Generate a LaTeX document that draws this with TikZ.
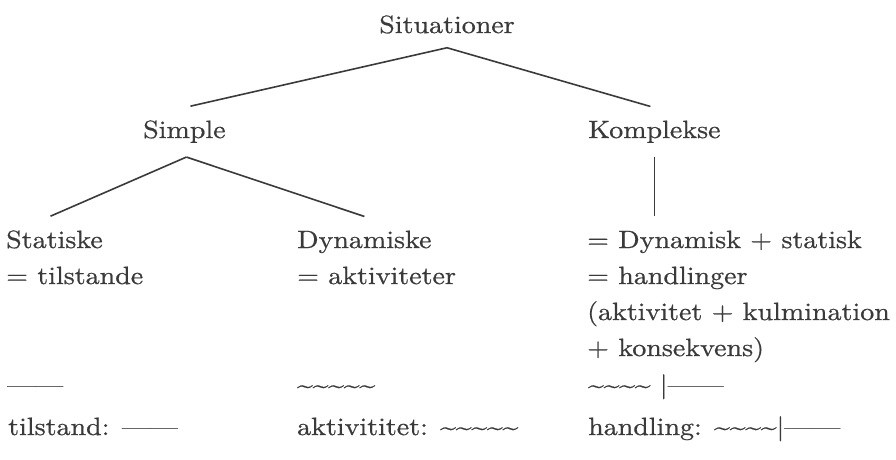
\documentclass[tikz,border=0pt]{standalone}
\usepackage{fontspec}
\setmainfont{lmroman10-regular.otf}[FakeStretch=1.12,FakeBold=0.7]
\definecolor{ink}{HTML}{3A3A3A}
\newcommand{\wv}{\textasciitilde}
\begin{document}
\begin{tikzpicture}[x=1pt,y=-1pt,
  txt/.style={anchor=base west, inner sep=0pt, text=ink, font=\fontsize{25}{36}\selectfont},
  hd/.style={txt, inner ysep=14pt},
  edge/.style={draw=ink, line width=1.6pt}]
\useasboundingbox (0,0) rectangle (896,459);
% headings
\node[hd, anchor=base] (sit) at (447,33) {Situationer};
\node[hd] (simple) at (143,138) {Simple};
\node[hd] (kompl) at (588,138) {Komplekse};
\node[hd] (stat) at (6,248) {Statiske};
\node[txt] (statdef) at (6,284) {= tilstande};
\node[hd] (dyn) at (297,248) {Dynamiske};
\node[txt] (dyndef) at (297,284) {= aktiviteter};
\node[hd] (kd1) at (587,248) {= Dynamisk + statisk};
\node[txt] (kd2) at (587,284) {= handlinger};
\node[txt] (kd3) at (587,320) {(aktivitet + kulmination};
\node[txt] (kd4) at (587,356) {+ konsekvens)};
% signs
\node[txt] (s1) at (7,393) {\textemdash\textemdash};
\node[txt] (s2) at (297,393) {\wv\wv\wv\wv\wv};
\node[txt] (s3) at (588,393) {\wv\wv\wv\wv\ |\textemdash\textemdash};
% legend
\node[txt] (b1) at (8,435) {tilstand: \textemdash\textemdash};
\node[txt] (b2) at (297,435) {aktivititet: \wv\wv\wv\wv\wv};
\node[txt] (b3) at (588,435) {handling: \wv\wv\wv\wv|\textemdash\textemdash};
% connectors
\draw[edge] (sit.south) -- ([xshift=6pt]simple.north);
\draw[edge] (sit.south) -- ([xshift=-4pt]kompl.north);
\draw[edge] ([xshift=2pt]simple.south) -- ([xshift=-4pt]stat.north);
\draw[edge] ([xshift=2pt]simple.south) -- (dyn.north);
\draw[edge] (kompl.south) -- (kompl.south |- kd1.north);
\end{tikzpicture}
\end{document}
